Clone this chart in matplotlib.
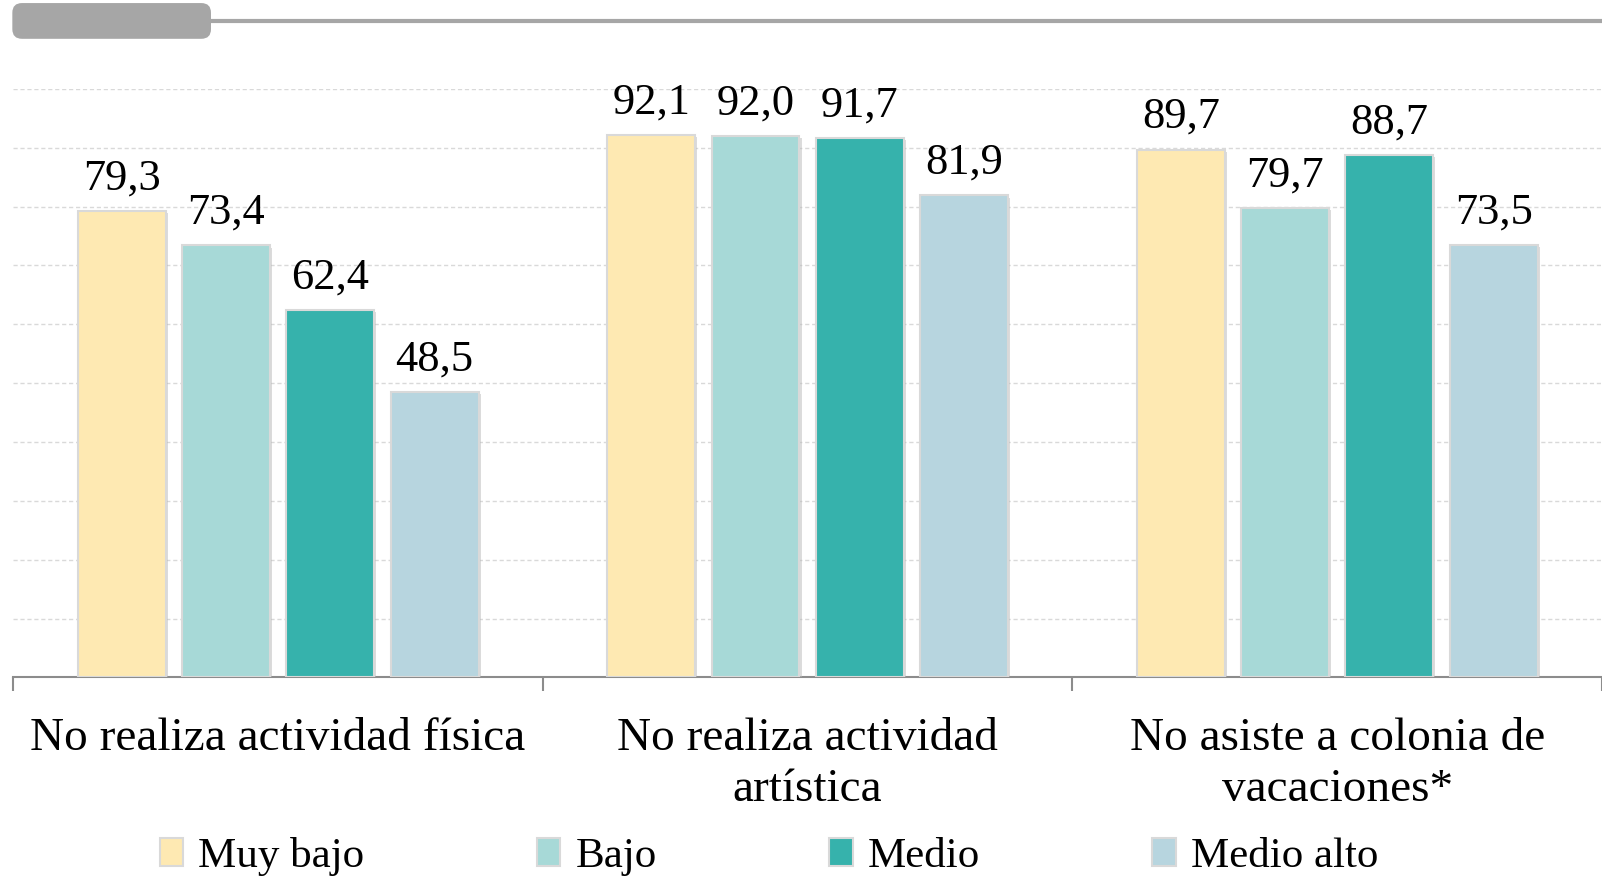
import numpy as np
import matplotlib.pyplot as plt
from matplotlib.patches import FancyBboxPatch, Patch
from matplotlib.lines import Line2D
import matplotlib.patheffects as pe

plt.rcParams['font.family'] = ['Liberation Serif', 'DejaVu Serif']

categories = ['No realiza actividad física', 'No realiza actividad\nartística',
              'No asiste a colonia de\nvacaciones*']
series = ['Muy bajo', 'Bajo', 'Medio', 'Medio alto']
values = {
    'Muy bajo': [79.3, 92.1, 89.7],
    'Bajo': [73.4, 92.0, 79.7],
    'Medio': [62.4, 91.7, 88.7],
    'Medio alto': [48.5, 81.9, 73.5],
}
colors = ['#FEE9B2', '#A7D9D7', '#36B2AC', '#B7D5DF']

fig = plt.figure(figsize=(16.02, 8.76), dpi=100)
ax = fig.add_axes([0.0083, 0.2267, 0.9917, 0.6718])

x = np.arange(len(categories))
step = 0.197
width = 0.166
shadow = [pe.SimplePatchShadow(offset=(1.5, -1.5), shadow_rgbFace='#bbbbbb', alpha=0.5), pe.Normal()]
for i, (name, col) in enumerate(zip(series, colors)):
    pos = x + (i - 1.5) * step
    bars = ax.bar(pos, values[name], width, color=col, edgecolor='#d9d9d9',
                  linewidth=1.5, zorder=3, label=name)
    for b in bars:
        b.set_path_effects(shadow)
    for p, v in zip(pos, values[name]):
        ax.annotate(f'{v:.1f}'.replace('.', ','), (p, v), xytext=(0, 9),
                    textcoords='offset points', ha='center', va='bottom',
                    fontsize=32, zorder=4)

ax.set_xlim(-0.5, 2.5)
ax.set_ylim(0, 100)
ax.set_yticks(np.arange(10, 101, 10))
ax.yaxis.grid(True, linestyle=(0, (3, 2)), color='#d9d9d9', linewidth=1)
ax.tick_params(axis='y', left=False, labelleft=False)
for s in ['top', 'right', 'left']:
    ax.spines[s].set_visible(False)
ax.spines['bottom'].set_color('#8c8c8c')
ax.spines['bottom'].set_linewidth(1.5)

ax.set_xticks([-0.5, 0.5, 1.5, 2.5])
ax.set_xticklabels([])
ax.tick_params(axis='x', length=10, width=1.5, color='#8c8c8c', direction='out')
ax.set_xticks(x, minor=True)
ax.set_xticklabels(categories, minor=True, fontsize=34, linespacing=1.25)
ax.tick_params(axis='x', which='minor', length=0, pad=29)

# top decoration
fig.add_artist(FancyBboxPatch((0.0077, 0.9557), 0.124, 0.0408,
                              boxstyle='round,pad=0,rounding_size=0.006',
                              transform=fig.transFigure, facecolor='#a6a6a6',
                              edgecolor='none', mutation_aspect=1.83))
fig.add_artist(Line2D([0.128, 1.0], [0.9755, 0.9755], transform=fig.transFigure,
                      color='#a6a6a6', linewidth=3))

handles = [Patch(facecolor=c, edgecolor='#d9d9d9', linewidth=1.5) for c in colors]
fig.legend(handles, series, loc='center', bbox_to_anchor=(0.48, 0.022), ncol=4,
           frameon=False, fontsize=31, handlelength=0.55, handleheight=0.6,
           handletextpad=0.35, columnspacing=4.0)

fig.savefig('out.png', dpi=100)
